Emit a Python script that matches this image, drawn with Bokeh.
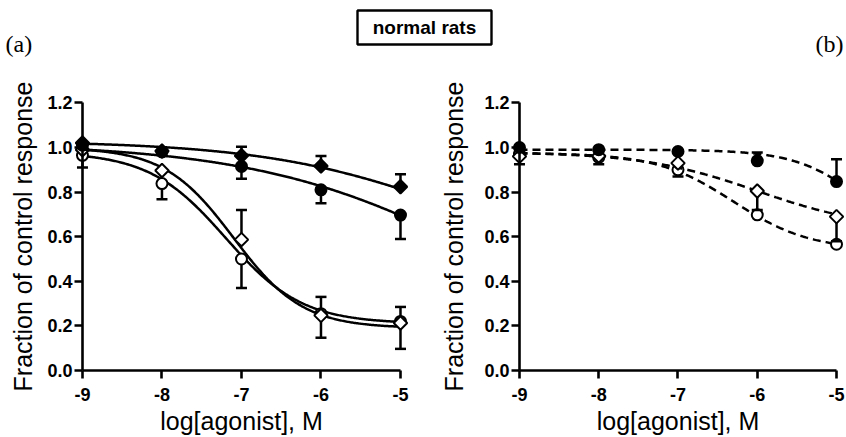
import numpy as np
from bokeh.plotting import figure
from bokeh.layouts import column, row
from bokeh.models import Range1d, FixedTicker, Label
from bokeh.embed import file_html
from bokeh.resources import INLINE

# ---------------- data ----------------
doses = [-9, -8, -7, -6, -5]
x_tick_labels = ["-9", "-8", "-7", "-6", "-5"]
y_ticks = [0.0, 0.2, 0.4, 0.6, 0.8, 1.0, 1.2]
y_tick_labels = ["0.0", "0.2", "0.4", "0.6", "0.8", "1.0", "1.2"]

# panel (a): means, one-sided error (SEM) and fitted-curve parameters (top, bottom, logEC50, hill)
a_filled_diamond = [1.02, 0.984, 0.963, 0.917, 0.824]
a_filled_diamond_err = [0.0, 0.0, 0.04, 0.045, 0.056]      # upward
a_filled_diamond_fit = [1.03, 0.40, -4.2, 0.35]

a_filled_circle = [1.01, 0.98, 0.915, 0.81, 0.697]
a_filled_circle_err = [0.0, 0.0, 0.055, 0.06, 0.107]       # downward
a_filled_circle_fit = [1.02, 0.0, -3.9, 0.30]

a_open_diamond = [0.99, 0.897, 0.587, 0.247, 0.213]
a_open_diamond_err = [0.0, 0.0, 0.133, 0.083, 0.072]       # upward
a_open_diamond_fit = [1.0, 0.19, -7.1, 1.0]

a_open_circle = [0.965, 0.838, 0.50, 0.255, 0.22]
a_open_circle_err = [0.055, 0.07, 0.13, 0.108, 0.123]      # downward
a_open_circle_fit = [0.98, 0.21, -7.2, 0.9]

# panel (b)
b_filled_circle = [1.0, 0.99, 0.982, 0.94, 0.847]
b_filled_circle_err = [0.0, 0.0, 0.0, 0.037, 0.10]         # upward
b_filled_circle_fit = [0.99, 0.50, -4.6, 1.0]

b_open_diamond = [0.96, 0.962, 0.93, 0.805, 0.69]
b_open_diamond_err = [0.0, 0.0, 0.0, 0.085, 0.11]          # downward
b_open_diamond_fit = [0.98, 0.63, -6.0, 0.6]

b_open_circle = [0.97, 0.955, 0.90, 0.698, 0.566]
b_open_circle_err = [0.045, 0.03, 0.03, 0.0, 0.0]          # downward
b_open_circle_fit = [0.975, 0.54, -6.3, 0.9]

FONT = "Liberation Sans"
PANEL_H = 377


def hill(x, top, bottom, logec50, h):
    return bottom + (top - bottom) / (1.0 + 10 ** ((x - logec50) * h))


def panel(width, x_range, y_range, ylabel_standoff):
    p = figure(width=width, height=PANEL_H, output_backend="svg", toolbar_location=None,
               x_range=Range1d(*x_range), y_range=Range1d(*y_range),
               min_border_left=0, min_border_right=0,
               min_border_top=0, min_border_bottom=0)
    p.outline_line_color = None
    p.xgrid.visible = False
    p.ygrid.visible = False
    p.background_fill_color = "white"
    p.border_fill_color = "white"

    for ax in (p.xaxis[0], p.yaxis[0]):
        ax.axis_line_width = 2.6
        ax.axis_line_color = "black"
        ax.major_tick_line_width = 2.6
        ax.major_tick_line_color = "black"
        ax.major_tick_out = 8
        ax.major_tick_in = 0
        ax.minor_tick_line_color = None
        ax.major_label_text_font = FONT
        ax.major_label_text_font_style = "bold"
        ax.major_label_text_font_size = "18px"
        ax.major_label_text_color = "black"
        ax.axis_label_text_font = FONT
        ax.axis_label_text_font_style = "normal"
        ax.axis_label_text_font_size = "25px"
        ax.axis_label_text_color = "black"

    xa = p.xaxis[0]
    xa.fixed_location = 0
    xa.bounds = (-9, -5)
    xa.ticker = FixedTicker(ticks=doses)
    xa.major_label_overrides = {d: s for d, s in zip(doses, x_tick_labels)}
    xa.major_label_standoff = 9
    xa.axis_label = "log[agonist], M"
    xa.axis_label_standoff = 3

    ya = p.yaxis[0]
    ya.fixed_location = -9
    ya.bounds = (0, 1.2)
    ya.ticker = FixedTicker(ticks=y_ticks)
    ya.major_label_overrides = {t: s for t, s in zip(y_ticks, y_tick_labels)}
    ya.major_label_standoff = 2
    ya.axis_label = "Fraction of control response"
    ya.axis_label_standoff = ylabel_standoff
    return p


def add_series(p, means, errs, direction, fit, marker, filled, dash):
    xc = np.linspace(-9, -5, 300)
    p.line(xc, hill(xc, *fit), line_width=2.5, line_color="black", line_dash=dash)
    sign = 1 if direction == "up" else -1
    ex = [d for d, e in zip(doses, errs) if e > 0]
    ey0 = [m for m, e in zip(means, errs) if e > 0]
    ey1 = [m + sign * e for m, e in zip(means, errs) if e > 0]
    if ex:
        p.segment(x0=ex, y0=ey0, x1=ex, y1=ey1, line_width=2.5, line_color="black")
        p.scatter(ex, ey1, marker="dash", size=11, line_width=2.5, line_color="black")
    fill = "black" if filled else "white"
    if marker == "diamond":
        p.scatter(doses, means, marker="square", angle=np.pi / 4, size=9.5,
                  fill_color=fill, line_color="black", line_width=2)
    else:
        p.scatter(doses, means, marker="circle", size=11,
                  fill_color=fill, line_color="black", line_width=2)


# view ranges: the frame fills each panel; axes are pinned at x=-9 and y=0
Y_RANGE = (-0.3004, 1.390)
A_X_RANGE = (-10.031, -4.547)
B_X_RANGE = (-10.047, -4.874)

# ---------------- panel (a) ----------------
pa = panel(436, A_X_RANGE, Y_RANGE, 7)
add_series(pa, a_open_circle, a_open_circle_err, "down", a_open_circle_fit, "circle", False, "solid")
add_series(pa, a_open_diamond, a_open_diamond_err, "up", a_open_diamond_fit, "diamond", False, "solid")
add_series(pa, a_filled_circle, a_filled_circle_err, "down", a_filled_circle_fit, "circle", True, "solid")
add_series(pa, a_filled_diamond, a_filled_diamond_err, "up", a_filled_diamond_fit, "diamond", True, "solid")

# ---------------- panel (b) ----------------
pb = panel(410, B_X_RANGE, Y_RANGE, 13)
add_series(pb, b_open_circle, b_open_circle_err, "down", b_open_circle_fit, "circle", False, "8 5")
add_series(pb, b_open_diamond, b_open_diamond_err, "down", b_open_diamond_fit, "diamond", False, "8 5")
add_series(pb, b_filled_circle, b_filled_circle_err, "up", b_filled_circle_fit, "circle", True, "8 5")

# ---------------- header ----------------
hd = figure(width=846, height=60, output_backend="svg", toolbar_location=None,
            x_range=Range1d(0, 846), y_range=Range1d(60, 0),
            x_axis_type=None, y_axis_type=None,
            min_border_left=0, min_border_right=0,
            min_border_top=0, min_border_bottom=0)
hd.outline_line_color = None
hd.xgrid.visible = False
hd.ygrid.visible = False
hd.quad(left=[357], right=[491], top=[10], bottom=[44], fill_color=None,
        line_color="black", line_width=2.4)
hd.add_layout(Label(x=424, y=27, text="normal rats", text_align="center",
                    text_baseline="middle", text_font=FONT, text_font_style="bold",
                    text_font_size="19px", text_color="black"))
hd.add_layout(Label(x=5, y=43, text="(a)", text_align="left", text_baseline="middle",
                    text_font="Liberation Serif", text_font_size="24px", text_color="black"))
hd.add_layout(Label(x=843, y=43, text="(b)", text_align="right", text_baseline="middle",
                    text_font="Liberation Serif", text_font_size="24px", text_color="black"))

layout = column(hd, row(pa, pb))
open("out.html", "w").write(file_html(layout, INLINE))
